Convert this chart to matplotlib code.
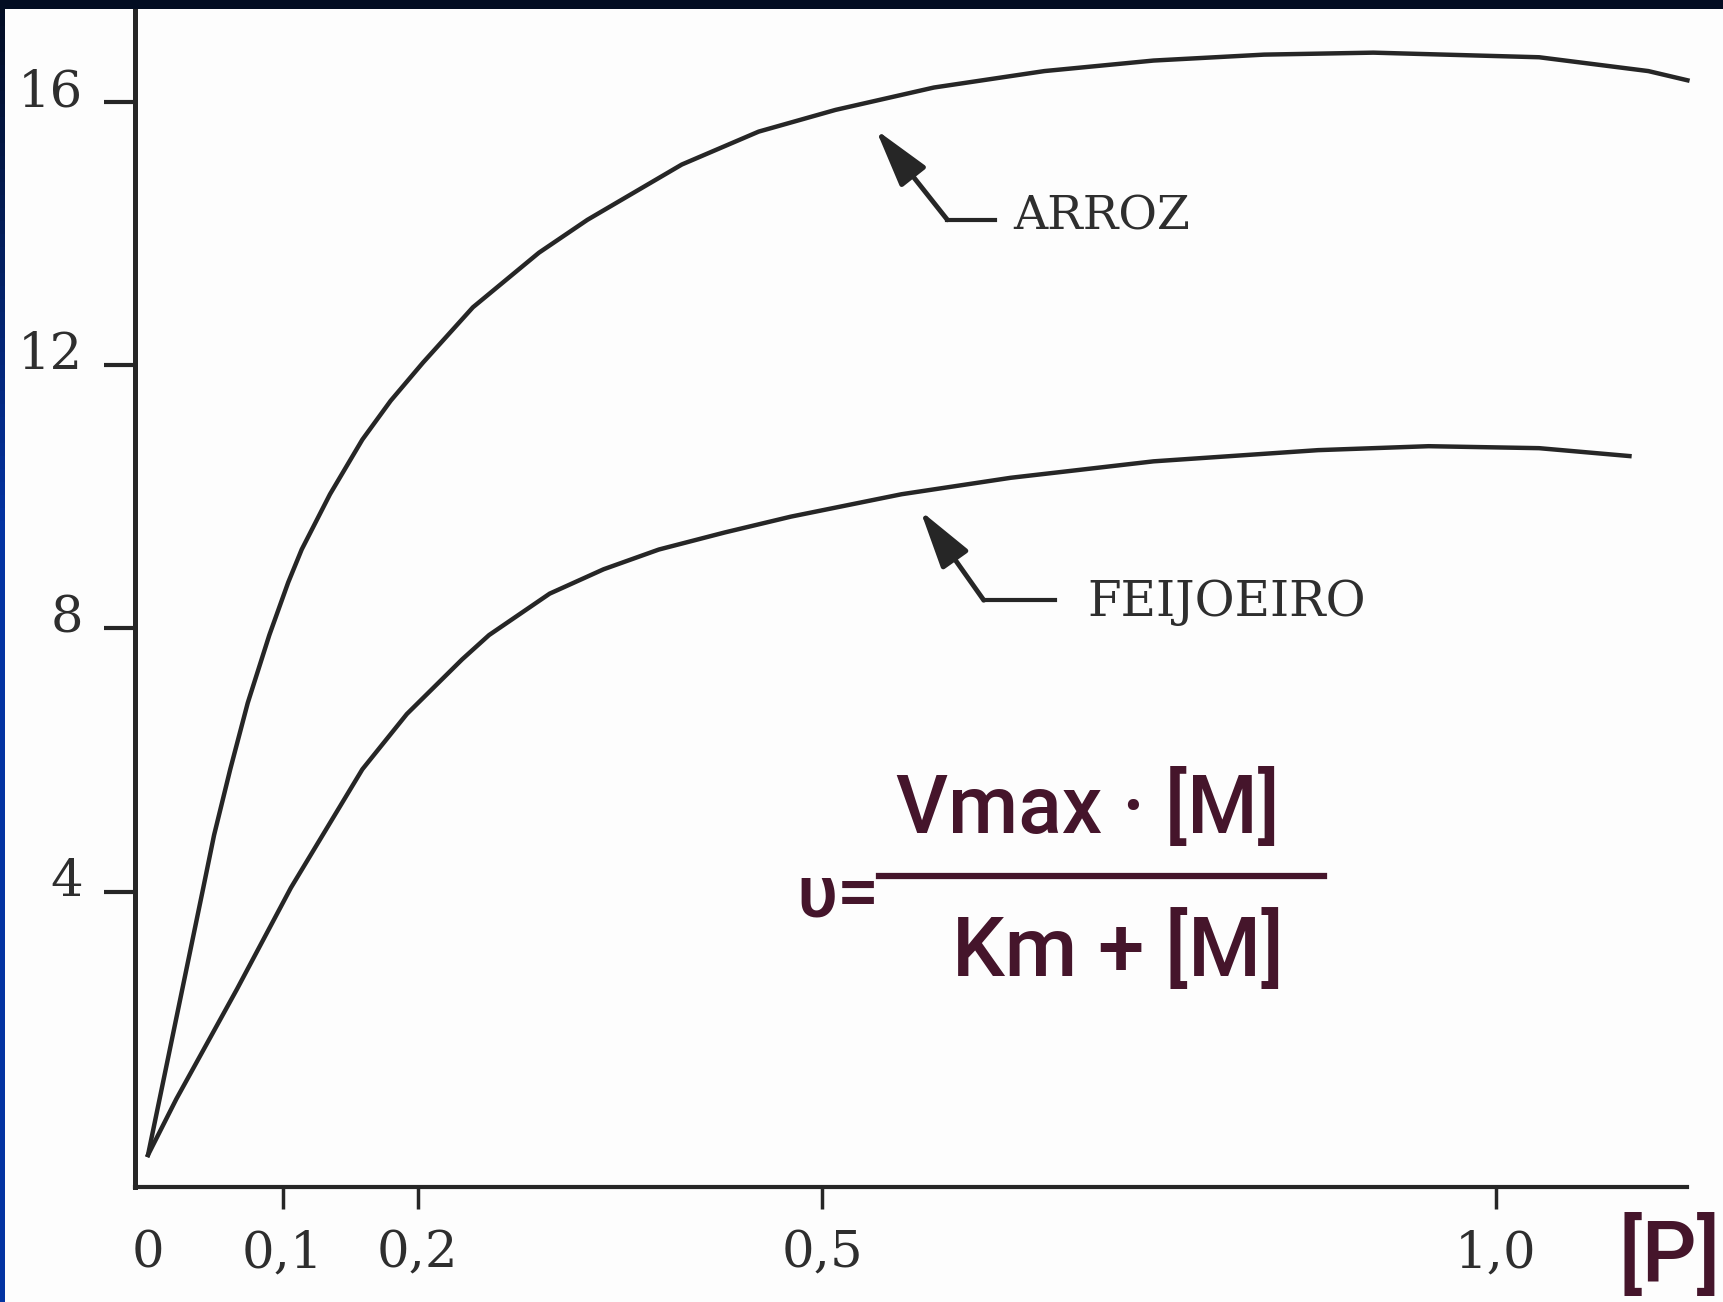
import numpy as np
import matplotlib.pyplot as plt
import matplotlib.transforms as mtransforms
from matplotlib.lines import Line2D

# values ([P] on x, velocity on y)
arroz_p = [0.0, 0.041, 0.049, 0.061, 0.074, 0.090, 0.104, 0.114, 0.135, 0.159,
           0.180, 0.204, 0.241, 0.290, 0.326, 0.396, 0.453, 0.510, 0.583, 0.665,
           0.746, 0.828, 0.909, 1.032, 1.113, 1.142]
arroz_v = [0.0, 4.06, 4.86, 5.86, 6.87, 7.90, 8.70, 9.20, 10.04, 10.87,
           11.46, 12.04, 12.88, 13.71, 14.21, 15.05, 15.55, 15.88, 16.22, 16.47,
           16.63, 16.72, 16.75, 16.68, 16.47, 16.33]

feijao_p = [0.0, 0.021, 0.066, 0.106, 0.159, 0.192, 0.233, 0.253, 0.298, 0.338,
            0.379, 0.428, 0.477, 0.559, 0.640, 0.746, 0.868, 0.950, 1.032, 1.099]
feijao_v = [0.0, 0.85, 2.52, 4.06, 5.86, 6.70, 7.53, 7.90, 8.53, 8.90,
            9.20, 9.46, 9.70, 10.04, 10.29, 10.54, 10.71, 10.77, 10.74, 10.62]

x_ticks = [0, 0.1, 0.2, 0.5, 1.0]
x_labels = ["0", "0,1", "0,2", "0,5", "1,0"]
y_ticks = [4, 8, 12, 16]
y_labels = ["4", "8", "12", "16"]

ink = "#262626"
type_ink = "#2e2e2e"
pen = "#45152b"
W, H = 1723, 1302

fig = plt.figure(figsize=(W / 100, H / 100), dpi=100, facecolor="#fdfdfd")
ax = fig.add_axes([0, 0, 1, 1])
ax.patch.set_alpha(0)
ax.set_xlim(-0.1098, 1.1684)
ax.set_ylim(-2.234, 17.55)

ax.plot(arroz_p, arroz_v, color=ink, lw=3.2, solid_joinstyle="round")
ax.plot(feijao_p, feijao_v, color=ink, lw=3.2, solid_joinstyle="round")

for s in ["top", "right"]:
    ax.spines[s].set_visible(False)
ax.spines["left"].set_position(("data", -0.01))
ax.spines["left"].set_bounds(-0.49, 17.55)
ax.spines["bottom"].set_position(("data", -0.49))
ax.spines["bottom"].set_bounds(-0.01, 1.142)
ax.spines["left"].set_linewidth(3.6)
ax.spines["bottom"].set_linewidth(3.0)
for s in ["left", "bottom"]:
    ax.spines[s].set_color(ink)

typew = "DejaVu Serif"
ax.set_xticks(x_ticks)
ax.set_xticklabels(x_labels, fontfamily=typew, fontsize=37, color=type_ink)
ax.set_yticks(y_ticks)
ax.set_yticklabels(y_labels, fontfamily=typew, fontsize=37, color=type_ink)
ax.tick_params(axis="y", length=22, width=3, pad=15, color=ink)
ax.tick_params(axis="x", length=16, width=2.5, pad=14, color=ink)
ax.xaxis.get_major_ticks()[0].tick1line.set_visible(False)
up = mtransforms.ScaledTranslation(0, 0.15, fig.dpi_scale_trans)
for lab in ax.get_yticklabels():
    lab.set_transform(lab.get_transform() + up)

# pointer arrows and curve names
head = "-|>,head_length=1.8,head_width=0.5"
ax.plot([0.593, 0.628], [14.21, 14.21], color=ink, lw=3)
ax.annotate("", xy=(0.540, 15.58), xytext=(0.593, 14.21),
            arrowprops=dict(arrowstyle=head, color=ink, lw=3.5,
                            mutation_scale=20, shrinkA=0, shrinkB=0))
ax.text(0.642, 14.25, "ARROZ", fontfamily=typew, fontsize=34,
        color=type_ink, va="center", ha="left")

ax.plot([0.620, 0.673], [8.43, 8.43], color=ink, lw=3)
ax.annotate("", xy=(0.573, 9.79), xytext=(0.620, 8.43),
            arrowprops=dict(arrowstyle=head, color=ink, lw=3.5,
                            mutation_scale=20, shrinkA=0, shrinkB=0))
ax.text(0.697, 8.40, "FEIJOEIRO", fontfamily=typew, fontsize=35,
        color=type_ink, va="center", ha="left")

# handwritten formula
def fx(px):
    return px / W

def fy(py):
    return 1 - py / H

hand = "Roboto"
fig.text(fx(838), fy(896), "υ=", fontfamily=hand, fontsize=54,
         fontweight="medium", color=pen, ha="center", va="center")
fig.text(fx(1088), fy(810), "Vmax · [M]", fontfamily=hand, fontsize=58,
         fontweight="medium", color=pen, ha="center", va="center")
fig.add_artist(Line2D([fx(879), fx(1324)], [fy(876), fy(876)],
                      color=pen, lw=4.5, transform=fig.transFigure))
fig.text(fx(1118), fy(952), "Km + [M]", fontfamily=hand, fontsize=60,
         fontweight="medium", color=pen, ha="center", va="center")
fig.text(fx(1721), fy(1299), "[P]", fontfamily=hand, fontsize=62,
         fontweight="medium", color=pen, ha="right", va="bottom")

# dark frame of the slide (top bar, left strip fading to blue)
top = fig.add_axes([0, 1 - 9 / H, 1, 9 / H])
top.set_axis_off()
top.add_patch(plt.Rectangle((0, 0), 1, 1, color="#030d22", transform=top.transAxes))
side = fig.add_axes([0, 0, 5 / W, 1])
side.set_axis_off()
grad = np.ones((100, 1, 3))
t = np.clip(np.linspace(0, 1, 100) / 0.4, 0, 1)[:, None]
c0 = np.array([0x03, 0x0d, 0x22]) / 255
c1 = np.array([0x03, 0x33, 0xa2]) / 255
grad[:, 0, :] = c0 * (1 - t) + c1 * t
side.imshow(grad, aspect="auto", extent=[0, 1, 0, 1], origin="upper")

fig.savefig("out.png", dpi=100, facecolor=fig.get_facecolor())
